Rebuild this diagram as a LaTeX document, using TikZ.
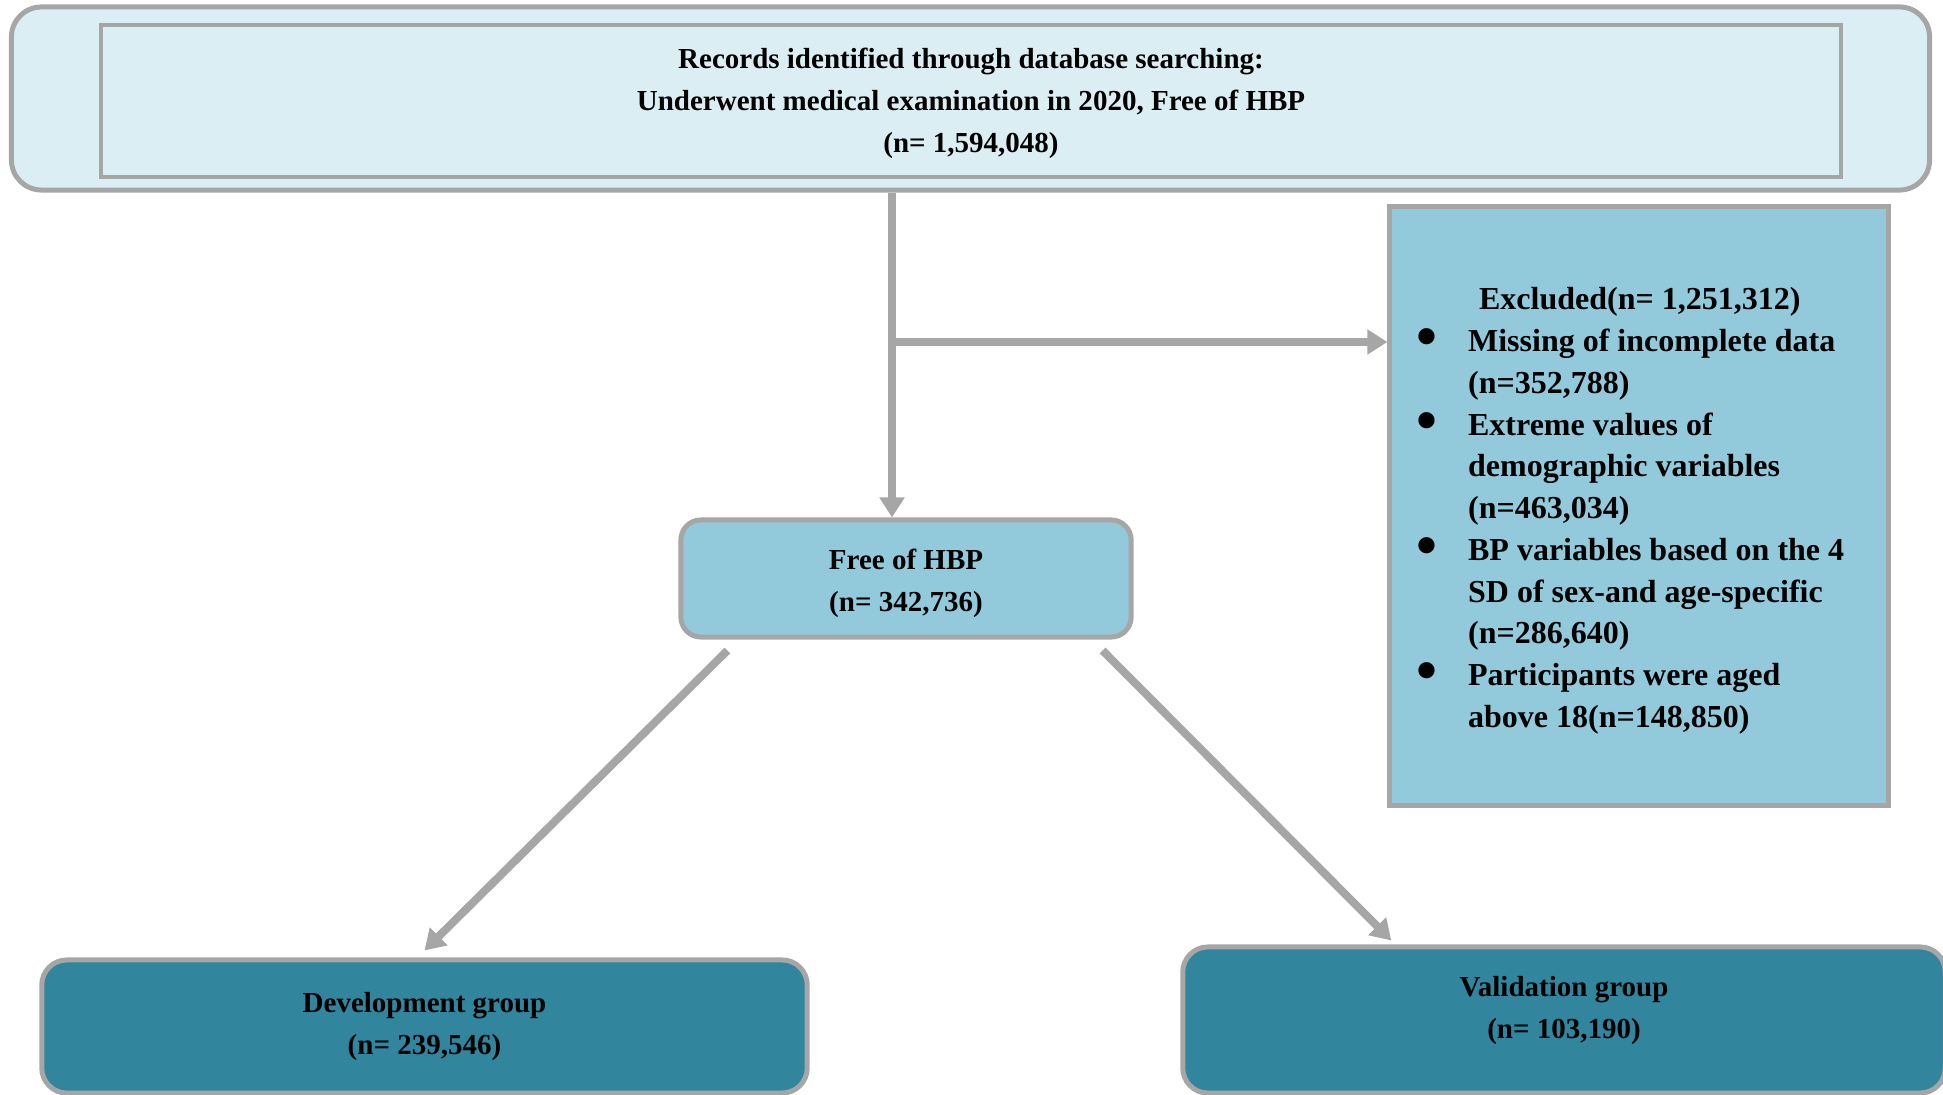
\documentclass[tikz,border=0pt]{standalone}
\usepackage{fontspec}
\setmainfont{Liberation Serif}
\usepackage{xcolor}
\usepackage{tikz}
\usetikzlibrary{arrows.meta,calc}

\definecolor{paleblue}{HTML}{DBEEF4}
\definecolor{midblue}{HTML}{93CADB}
\definecolor{darkteal}{HTML}{31859C}
\definecolor{linegray}{HTML}{A6A6A6}
\newcommand{\exbullet}{\llap{\raisebox{-0.05cm}{\fontsize{17}{12}\selectfont\textbullet}\hspace{0.31cm}}}

\begin{document}
\begin{tikzpicture}[
          x=0.01cm,y=-0.01cm,
          box/.style={draw=linegray,line width=0.05cm,align=center,inner sep=0pt,
            font=\fontsize{8.25}{11.95}\selectfont\bfseries},
          outerbox/.style={box,fill=paleblue,rounded corners=0.3cm},
          innerbox/.style={box,fill=paleblue,line width=0.04cm},
          midbox/.style={box,fill=midblue},
          groupbox/.style={box,fill=darkteal,rounded corners=0.25cm},
          listtext/.style={align=left,inner sep=0pt,font=\fontsize{9.1}{11.87}\selectfont\bfseries},
          conn/.style={draw=linegray,line width=0.08cm,-{Triangle[length=0.2cm,width=0.24cm]}}
        ]
        \useasboundingbox (0,0) rectangle (1943,1095);
        \node [outerbox,minimum width=19.17cm,minimum height=1.83cm] (outer) at (970.5,98.5) {};
        \node [innerbox,minimum width=17.38cm,minimum height=1.52cm] (records) at (971,101)
            {\rule{0pt}{0.25cm}Records identified through database searching:\\
             Underwent medical examination in 2020, Free of HBP\\
             (n= 1,594,048)};
        \node [midbox,minimum width=4.98cm,minimum height=5.98cm] (excl) at (1639,506) {};
        \node [listtext,anchor=west] (excltxt) at ([xshift=0.8cm,yshift=-0.05cm]excl.west)
            {\hspace*{0.11cm}Excluded(n= 1,251,312)\\
             \exbullet Missing of incomplete data\\
             (n=352,788)\\
             \exbullet Extreme values of\\
             demographic variables\\
             (n=463,034)\\
             \exbullet BP variables based on the 4\\
             SD of sex-and age-specific\\
             (n=286,640)\\
             \exbullet Participants were aged\\
             above 18(n=148,850)};
        \node [midbox,rounded corners=0.2cm,minimum width=4.5cm,minimum height=1.17cm] (free) at (906,578.5)
            {\rule{0pt}{0.3cm}Free of HBP\\(n= 342,736)};
        \node [groupbox,minimum width=7.65cm,minimum height=1.33cm] (dev) at (424.5,1026.5)
            {Development group\\(n= 239,546)};
        \node [groupbox,minimum width=7.62cm,minimum height=1.46cm,text depth=0.26cm] (val) at (1564,1020)
            {Validation group\\(n= 103,190)};

        % arrows
        \coordinate (split) at (892,342);
        \draw [conn] (outer.south -| split) -- (free.north -| split);
        \draw [conn] (split) -- (excl.west |- split);
        \draw [conn] ($(free.south west)+(49,11)$) -- ($(dev.north)+(0,-7)$);
        \draw [conn] ($(free.south east)+(-31,11)$) -- ($(val.north west)+(211,-4)$);
    \end{tikzpicture}
\end{document}
